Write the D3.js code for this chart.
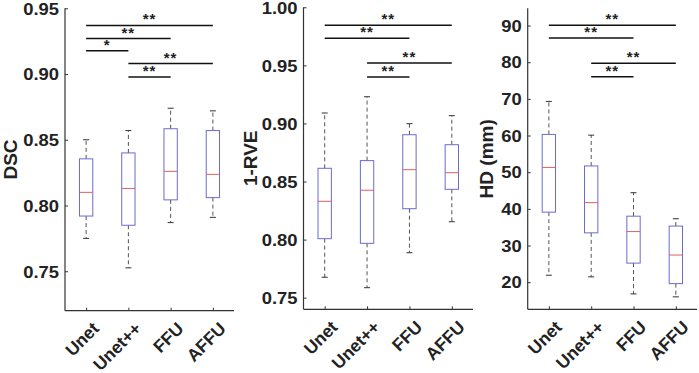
<!DOCTYPE html>
<html><head><meta charset="utf-8">
<script src="https://cdn.jsdelivr.net/npm/d3@7"></script>
<style>
body{margin:0;background:#fff;}
svg{display:block;}
</style></head>
<body>
<svg id="chart" width="699" height="373"></svg>
<script>
// ---- data ----
const categories = ["Unet", "Unet++", "FFU", "AFFU"];
// per category: [whisker low, Q1, median, Q3, whisker high]
const dscStats = [
  [0.775, 0.792, 0.810, 0.8355, 0.850],
  [0.7526, 0.785, 0.813, 0.840, 0.857],
  [0.787, 0.8043, 0.826, 0.8584, 0.874],
  [0.791, 0.806, 0.8237, 0.857, 0.872]
];
const rveStats = [
  [0.7676, 0.8008, 0.833, 0.8614, 0.909],
  [0.7586, 0.7968, 0.8425, 0.868, 0.923],
  [0.7887, 0.8266, 0.8602, 0.8903, 0.8998],
  [0.8154, 0.8433, 0.8576, 0.8817, 0.9067]
];
const hdStats = [
  [21.9, 39.1, 51.3, 60.3, 69.3],
  [21.45, 33.45, 41.7, 51.7, 60.1],
  [16.8, 25.2, 33.8, 38.0, 44.4],
  [16.0, 19.6, 27.4, 35.3, 37.3]
];
// significance: [from index, to index, label, y value]
const dscSig = [[0, 3, "**", 0.937], [0, 2, "**", 0.927], [0, 1, "*", 0.9177], [1, 3, "**", 0.908], [1, 2, "**", 0.8977]];
const rveSig = [[0, 3, "**", 0.9845], [0, 2, "**", 0.9733], [1, 3, "**", 0.952], [1, 2, "**", 0.940]];
const hdSig = [[0, 3, "**", 90.1], [0, 2, "**", 86.6], [1, 3, "**", 79.7], [1, 2, "**", 76.0]];
const dscTicks = [0.75, 0.80, 0.85, 0.90, 0.95];
const rveTicks = [0.75, 0.80, 0.85, 0.90, 0.95, 1.00];
const hdTicks = [20, 30, 40, 50, 60, 70, 80, 90];
const titles = ["DSC", "1-RVE", "HD (mm)"];

const panels = [
  {stats: dscStats, sig: dscSig, ticks: dscTicks, fmt: d3.format(".2f"), title: titles[0],
   x0: 65, x1: 234, dom: [0.72, 0.95], y0: 310.7, y1: 8.3, titleX: 17},
  {stats: rveStats, sig: rveSig, ticks: rveTicks, fmt: d3.format(".2f"), title: titles[1],
   x0: 303.5, x1: 473, dom: [0.74, 1.00], y0: 309.3, y1: 7.3, titleX: 257},
  {stats: hdStats, sig: hdSig, ticks: hdTicks, fmt: d3.format("d"), title: titles[2],
   x0: 527.7, x1: 697, dom: [12.6, 94.7], y0: 309.3, y1: 8.3, titleX: 493}
];

const svg = d3.select("#chart");
const axisColor = "#333";
const textColor = "#222";
const boxColor = "#6b6bd0";
const medColor = "#e0605a";
const sx = 1.15, tickPad = 6;

panels.forEach(p => {
  const g = svg.append("g");
  const x = d3.scalePoint().domain(categories).range([p.x0, p.x1]).padding(0.5);
  const y = d3.scaleLinear().domain(p.dom).range([p.y0, p.y1]);
  const bw = x.step() * 0.315;
  const cap = 6;

  // y axis
  const yAxis = d3.axisLeft(y).tickValues(p.ticks).tickFormat(p.fmt).tickSizeInner(-3).tickSizeOuter(0);
  const ya = g.append("g").attr("transform", `translate(${p.x0},0)`).call(yAxis);
  ya.select(".domain").attr("stroke", axisColor).attr("stroke-width", 1.2)
    .attr("d", `M0,${p.y0}V${p.y1}`);
  ya.selectAll(".tick line").attr("stroke", axisColor);
  ya.selectAll(".tick text").attr("font-family", "Liberation Sans, Arial").attr("font-weight", "bold")
    .attr("font-size", 16).attr("fill", textColor)
    .attr("x", -tickPad / sx).attr("dy", "0.36em").attr("transform", `scale(${sx},1)`);

  // x axis
  const xAxis = d3.axisBottom(x).tickSizeInner(-3).tickSizeOuter(0).tickFormat("");
  const xa = g.append("g").attr("transform", `translate(0,${p.y0})`).call(xAxis);
  xa.select(".domain").attr("stroke", axisColor).attr("stroke-width", 1.2)
    .attr("d", `M${p.x0},0H${p.x1}`);
  xa.selectAll(".tick line").attr("stroke", axisColor);
  g.selectAll(".xlab").data(categories).enter().append("text")
    .attr("transform", d => `translate(${x(d) + 14},${p.y0 + 19}) rotate(-45)`)
    .attr("text-anchor", "end")
    .attr("font-family", "Liberation Sans, Arial").attr("font-weight", "bold")
    .attr("font-size", 17.5).attr("fill", textColor).text(d => d);

  // y title
  g.append("text")
    .attr("transform", `translate(${p.titleX},${(p.y0 + p.y1) / 2}) rotate(-90)`)
    .attr("text-anchor", "middle")
    .attr("font-family", "Liberation Sans, Arial").attr("font-weight", "bold")
    .attr("font-size", 19).attr("fill", textColor).text(p.title);

  // boxes
  const bg = g.selectAll(".bx").data(p.stats).enter().append("g");
  bg.each(function(s, i) {
    const sel = d3.select(this);
    const cx = x(categories[i]);
    sel.append("line").attr("x1", cx).attr("x2", cx).attr("y1", y(s[3])).attr("y2", y(s[4]))
      .attr("stroke", "#555").attr("stroke-dasharray", "4,3");
    sel.append("line").attr("x1", cx).attr("x2", cx).attr("y1", y(s[1])).attr("y2", y(s[0]))
      .attr("stroke", "#555").attr("stroke-dasharray", "4,3");
    [s[0], s[4]].forEach(v => sel.append("line").attr("x1", cx - cap / 2).attr("x2", cx + cap / 2)
      .attr("y1", y(v)).attr("y2", y(v)).attr("stroke", "#333"));
    sel.append("rect").attr("x", cx - bw / 2).attr("width", bw)
      .attr("y", y(s[3])).attr("height", y(s[1]) - y(s[3]))
      .attr("fill", "none").attr("stroke", boxColor).attr("stroke-width", 1);
    sel.append("line").attr("x1", cx - bw / 2).attr("x2", cx + bw / 2)
      .attr("y1", y(s[2])).attr("y2", y(s[2])).attr("stroke", medColor).attr("stroke-width", 1);
  });

  // significance
  p.sig.forEach(s => {
    const xa1 = x(categories[s[0]]), xb = x(categories[s[1]]), yy = y(s[3]);
    g.append("line").attr("x1", xa1).attr("x2", xb).attr("y1", yy).attr("y2", yy)
      .attr("stroke", "#111").attr("stroke-width", 1.5);
    g.append("text").attr("x", (xa1 + xb) / 2).attr("y", yy - 1)
      .attr("text-anchor", "middle").attr("font-family", "Liberation Sans, Arial")
      .attr("font-weight", "bold").attr("font-size", 15).attr("letter-spacing", 1)
      .attr("fill", "#222").text(s[2]);
  });
});
</script>
</body></html>
